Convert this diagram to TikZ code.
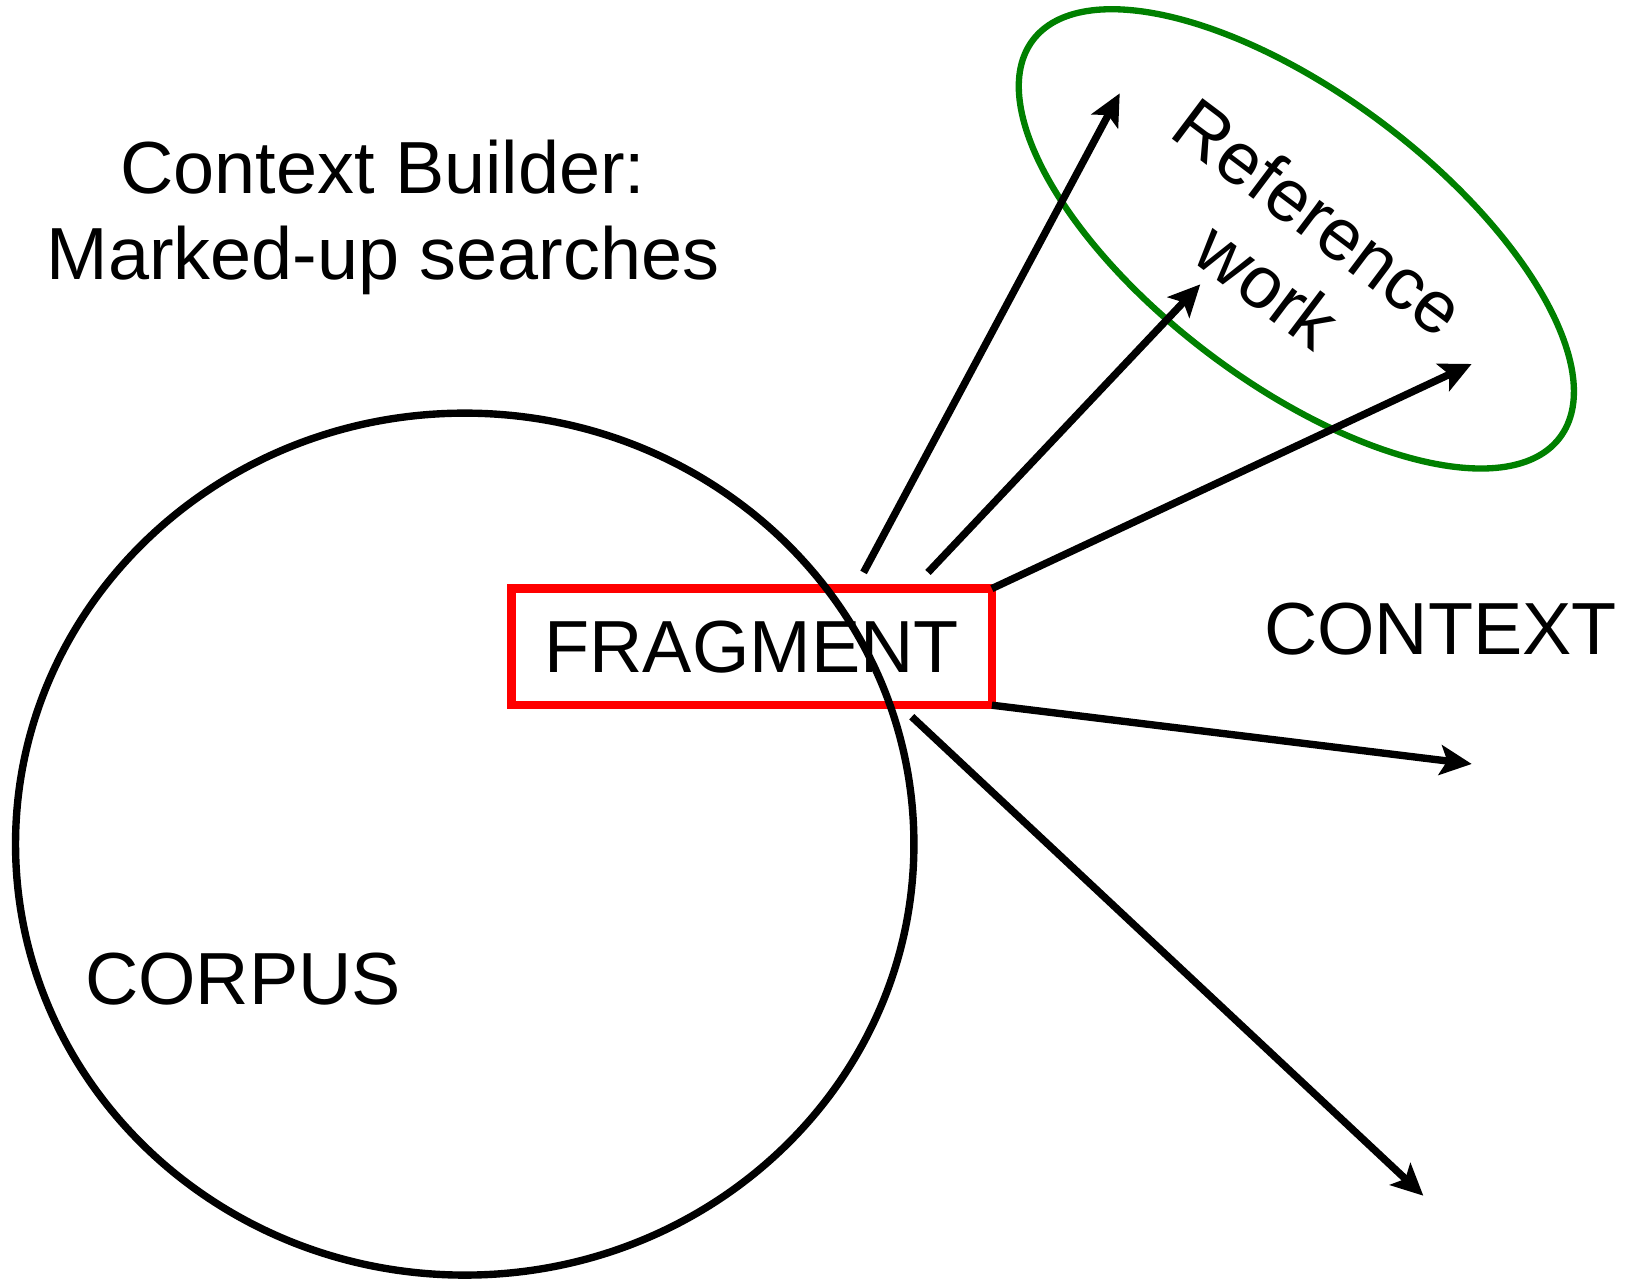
\documentclass[tikz,border=0pt]{standalone}
\usepackage{fontspec}
\setmainfont{Liberation Sans}
\usetikzlibrary{arrows.meta,shapes.geometric}

\begin{document}
\begin{tikzpicture}[x=0.010408cm,y=-0.010408cm,
    txt/.style={font=\fontsize{21}{24.5}\selectfont,align=center,inner sep=0pt},
    arr/.style={-{Stealth[length=9pt,width=8.5pt,inset=2pt]},line width=2.1pt}]
    \useasboundingbox (0,0) rectangle (1568,1228);

    \node[txt,draw=red,line width=2.4pt,outer sep=0pt,
        minimum width=4.803cm,minimum height=1.166cm] (frag) at (722.2,621.5) {FRAGMENT};
    \node[draw,ellipse,line width=2.1pt,inner sep=0pt,
        minimum width=8.982cm,minimum height=8.618cm] (corpus) at (446.5,811) {};
    \node[draw=green!50!black,ellipse,line width=1.8pt,inner sep=0pt,rotate=-37,
        minimum width=6.599cm,minimum height=2.885cm] (refwork) at (1245.5,229.5) {};

    \node[txt] (title) at (368,209) {Context Builder:\\Marked-up searches};
    \node[txt] (corpuslbl) at (233.5,941) {CORPUS};
    \node[txt] (contextlbl) at (1384,604) {CONTEXT};
    \node[txt,rotate=-37] (reflbl) at (1243,241) {Reference\\work};

    \coordinate (s1) at (829.7,550);
    \coordinate (s2) at (891.6,550);
    \coordinate (s5) at (876,688.6);
    \coordinate (e1) at (1075.8,89.7);
    \coordinate (e2) at (1153.2,273.2);
    \coordinate (e3) at (1413.9,349.7);
    \coordinate (e4) at (1414,734);
    \coordinate (e5) at (1367.5,1148.8);

    \draw[arr] (s1) -- (e1);
    \draw[arr] (s2) -- (e2);
    \draw[arr] (frag.north east) -- (e3);
    \draw[arr] (frag.south east) -- (e4);
    \draw[arr] (s5) -- (e5);
\end{tikzpicture}
\end{document}
